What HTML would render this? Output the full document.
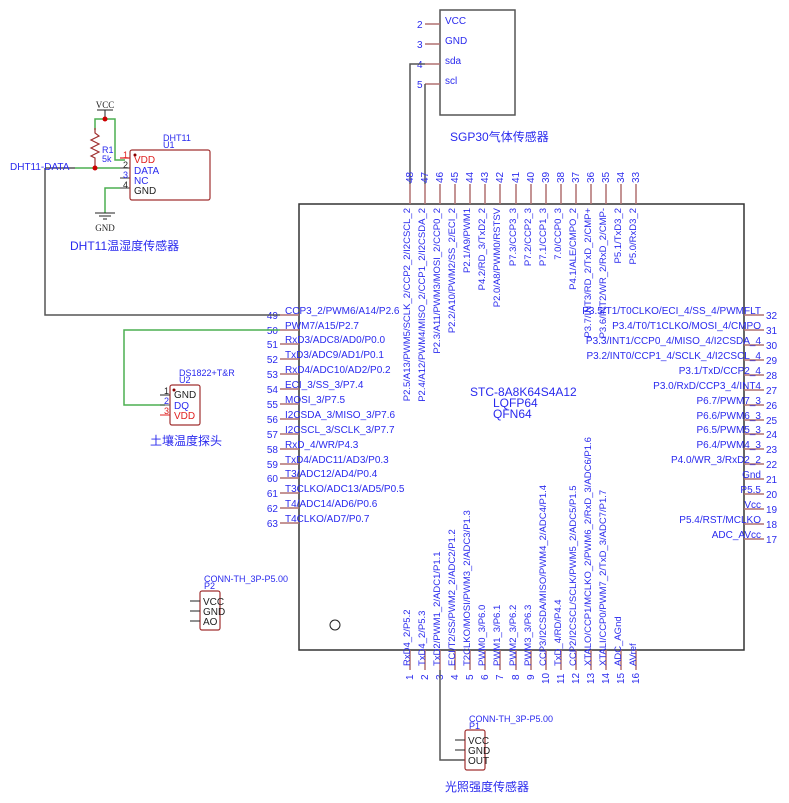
<!DOCTYPE html>
<html><head><meta charset="utf-8"><style>
html,body{margin:0;padding:0;background:#fff;}
svg{display:block;}
text{font-family:"Liberation Sans","Noto Sans CJK SC",sans-serif;}
.b{fill:#2a2aee;font-size:10px;}
.k{fill:#222;font-size:10px;}
.r{fill:#e02020;font-size:10px;}
.p{stroke:#b07070;stroke-width:1.5;}
.w{stroke:#555;stroke-width:1.5;fill:none;}
.g{stroke:#4caf50;stroke-width:1.5;fill:none;}
</style></head><body>
<svg width="789" height="803" viewBox="0 0 789 803" xmlns="http://www.w3.org/2000/svg">
<!-- SGP30 -->
<rect x="440" y="10" width="75" height="105" fill="none" stroke="#555" stroke-width="1.5"/>
<g class="p"><line x1="425" y1="24" x2="440" y2="24"/><line x1="425" y1="44" x2="440" y2="44"/><line x1="425" y1="64" x2="440" y2="64"/><line x1="425" y1="84" x2="440" y2="84"/></g>
<text class="b" x="417" y="28">2</text><text class="b" x="417" y="48">3</text><text class="b" x="417" y="68">4</text><text class="b" x="417" y="88">5</text>
<text class="b" x="445" y="24">VCC</text><text class="b" x="445" y="44">GND</text><text class="b" x="445" y="64">sda</text><text class="b" x="445" y="84">scl</text>
<text class="b" x="450" y="141" style="font-size:12px">SGP30气体传感器</text>
<polyline class="w" points="425,64 410,64 410,184"/>
<polyline class="w" points="425,84 425,184"/>

<!-- Chip -->
<rect x="299" y="204" width="445" height="446" fill="none" stroke="#333" stroke-width="1.5"/>
<circle cx="335" cy="625" r="5" fill="none" stroke="#222" stroke-width="1"/>
<text class="b" x="470" y="396" style="font-size:12px">STC-8A8K64S4A12</text>
<text class="b" x="493" y="407" style="font-size:12px">LQFP64</text>
<text class="b" x="493" y="418" style="font-size:12px">QFN64</text>

<!-- top pins -->
<g class="p">
<line x1="410" y1="184" x2="410" y2="204"/><line x1="425" y1="184" x2="425" y2="204"/><line x1="440" y1="184" x2="440" y2="204"/><line x1="455" y1="184" x2="455" y2="204"/><line x1="470" y1="184" x2="470" y2="204"/><line x1="485" y1="184" x2="485" y2="204"/><line x1="500" y1="184" x2="500" y2="204"/><line x1="516" y1="184" x2="516" y2="204"/><line x1="531" y1="184" x2="531" y2="204"/><line x1="546" y1="184" x2="546" y2="204"/><line x1="561" y1="184" x2="561" y2="204"/><line x1="576" y1="184" x2="576" y2="204"/><line x1="591" y1="184" x2="591" y2="204"/><line x1="606" y1="184" x2="606" y2="204"/><line x1="621" y1="184" x2="621" y2="204"/><line x1="636" y1="184" x2="636" y2="204"/>
</g>
<g class="b">
<text transform="translate(413,183) rotate(-90)">48</text><text transform="translate(428,183) rotate(-90)">47</text><text transform="translate(443,183) rotate(-90)">46</text><text transform="translate(458,183) rotate(-90)">45</text><text transform="translate(473,183) rotate(-90)">44</text><text transform="translate(488,183) rotate(-90)">43</text><text transform="translate(503,183) rotate(-90)">42</text><text transform="translate(519,183) rotate(-90)">41</text><text transform="translate(534,183) rotate(-90)">40</text><text transform="translate(549,183) rotate(-90)">39</text><text transform="translate(564,183) rotate(-90)">38</text><text transform="translate(579,183) rotate(-90)">37</text><text transform="translate(594,183) rotate(-90)">36</text><text transform="translate(609,183) rotate(-90)">35</text><text transform="translate(624,183) rotate(-90)">34</text><text transform="translate(639,183) rotate(-90)">33</text>
</g>
<g class="b" text-anchor="end" style="font-size:9.5px">
<text transform="translate(410,208) rotate(-90)">P2.5/A13/PWM5/SCLK_2/CCP2_2/I2CSCL_2</text>
<text transform="translate(425,208) rotate(-90)">P2.4/A12/PWM4/MISO_2/CCP1_2/I2CSDA_2</text>
<text transform="translate(440,208) rotate(-90)">P2.3/A11/PWM3/MOSI_2/CCP0_2</text>
<text transform="translate(455,208) rotate(-90)">P2.2/A10/PWM2/SS_2/ECI_2</text>
<text transform="translate(470,208) rotate(-90)">P2.1/A9/PWM1</text>
<text transform="translate(485,208) rotate(-90)">P4.2/RD_3/TxD2_2</text>
<text transform="translate(500,208) rotate(-90)">P2.0/A8/PWM0/RSTSV</text>
<text transform="translate(516,208) rotate(-90)">P7.3/CCP3_3</text>
<text transform="translate(531,208) rotate(-90)">P7.2/CCP2_3</text>
<text transform="translate(546,208) rotate(-90)">P7.1/CCP1_3</text>
<text transform="translate(561,208) rotate(-90)">7.0/CCP0_3</text>
<text transform="translate(576,208) rotate(-90)">P4.1/ALE/CMPO_2</text>
<text transform="translate(591,208) rotate(-90)">P3.7/INT3/RD_2/TxD_2/CMP+</text>
<text transform="translate(606,208) rotate(-90)">P3.6/INT2/WR_2/RxD_2/CMP-</text>
<text transform="translate(621,208) rotate(-90)">P5.1/TxD3_2</text>
<text transform="translate(636,208) rotate(-90)">P5.0/RxD3_2</text>
</g>

<!-- bottom pins -->
<g class="p">
<line x1="410" y1="650" x2="410" y2="670"/><line x1="425" y1="650" x2="425" y2="670"/><line x1="440" y1="650" x2="440" y2="670"/><line x1="455" y1="650" x2="455" y2="670"/><line x1="470" y1="650" x2="470" y2="670"/><line x1="485" y1="650" x2="485" y2="670"/><line x1="500" y1="650" x2="500" y2="670"/><line x1="516" y1="650" x2="516" y2="670"/><line x1="531" y1="650" x2="531" y2="670"/><line x1="546" y1="650" x2="546" y2="670"/><line x1="561" y1="650" x2="561" y2="670"/><line x1="576" y1="650" x2="576" y2="670"/><line x1="591" y1="650" x2="591" y2="670"/><line x1="606" y1="650" x2="606" y2="670"/><line x1="621" y1="650" x2="621" y2="670"/><line x1="636" y1="650" x2="636" y2="670"/>
</g>
<g class="b">
<text transform="translate(413,680) rotate(-90)">1</text><text transform="translate(428,680) rotate(-90)">2</text><text transform="translate(443,680) rotate(-90)">3</text><text transform="translate(458,680) rotate(-90)">4</text><text transform="translate(473,680) rotate(-90)">5</text><text transform="translate(488,680) rotate(-90)">6</text><text transform="translate(503,680) rotate(-90)">7</text><text transform="translate(519,680) rotate(-90)">8</text><text transform="translate(534,680) rotate(-90)">9</text><text transform="translate(549,684) rotate(-90)">10</text><text transform="translate(564,684) rotate(-90)">11</text><text transform="translate(579,684) rotate(-90)">12</text><text transform="translate(594,684) rotate(-90)">13</text><text transform="translate(609,684) rotate(-90)">14</text><text transform="translate(624,684) rotate(-90)">15</text><text transform="translate(639,684) rotate(-90)">16</text>
</g>
<g class="b" style="font-size:9.5px">
<text transform="translate(410,666) rotate(-90)">RxD4_2/P5.2</text>
<text transform="translate(425,666) rotate(-90)">TxD4_2/P5.3</text>
<text transform="translate(440,666) rotate(-90)">TxD2/PWM1_2/ADC1/P1.1</text>
<text transform="translate(455,666) rotate(-90)">ECI/T2/SS/PWM2_2/ADC2/P1.2</text>
<text transform="translate(470,666) rotate(-90)">T2CLKO/MOSI/PWM3_2/ADC3/P1.3</text>
<text transform="translate(485,666) rotate(-90)">PWM0_3/P6.0</text>
<text transform="translate(500,666) rotate(-90)">PWM1_3/P6.1</text>
<text transform="translate(516,666) rotate(-90)">PWM2_3/P6.2</text>
<text transform="translate(531,666) rotate(-90)">PWM3_3/P6.3</text>
<text transform="translate(546,666) rotate(-90)">CCP3/I2CSDA/MISO/PWM4_2/ADC4/P1.4</text>
<text transform="translate(561,666) rotate(-90)">TxD_4/RD/P4.4</text>
<text transform="translate(576,666) rotate(-90)">CCP2/I2CSCL/SCLK/PWM5_2/ADC5/P1.5</text>
<text transform="translate(591,666) rotate(-90)">XTALO/CCP1/MCLKO_2/PWM6_2/RxD_3/ADC6/P1.6</text>
<text transform="translate(606,666) rotate(-90)">XTALI/CCP0/PWM7_2/TxD_3/ADC7/P1.7</text>
<text transform="translate(621,666) rotate(-90)">ADC_AGnd</text>
<text transform="translate(636,666) rotate(-90)">AVref</text>
</g>

<!-- left pins -->
<g class="p">
<line x1="280" y1="315" x2="299" y2="315"/><line x1="280" y1="330" x2="299" y2="330"/><line x1="280" y1="344" x2="299" y2="344"/><line x1="280" y1="359" x2="299" y2="359"/><line x1="280" y1="374" x2="299" y2="374"/><line x1="280" y1="389" x2="299" y2="389"/><line x1="280" y1="404" x2="299" y2="404"/><line x1="280" y1="419" x2="299" y2="419"/><line x1="280" y1="434" x2="299" y2="434"/><line x1="280" y1="449" x2="299" y2="449"/><line x1="280" y1="464" x2="299" y2="464"/><line x1="280" y1="478" x2="299" y2="478"/><line x1="280" y1="493" x2="299" y2="493"/><line x1="280" y1="508" x2="299" y2="508"/><line x1="280" y1="523" x2="299" y2="523"/>
</g>
<g class="b" text-anchor="end">
<text x="278" y="319">49</text><text x="278" y="334">50</text><text x="278" y="348">51</text><text x="278" y="363">52</text><text x="278" y="378">53</text><text x="278" y="393">54</text><text x="278" y="408">55</text><text x="278" y="423">56</text><text x="278" y="438">57</text><text x="278" y="453">58</text><text x="278" y="468">59</text><text x="278" y="482">60</text><text x="278" y="497">61</text><text x="278" y="512">62</text><text x="278" y="527">63</text>
</g>
<g class="b">
<text x="285" y="314">CCP3_2/PWM6/A14/P2.6</text><text x="285" y="329">PWM7/A15/P2.7</text><text x="285" y="343">RxD3/ADC8/AD0/P0.0</text><text x="285" y="358">TxD3/ADC9/AD1/P0.1</text><text x="285" y="373">RxD4/ADC10/AD2/P0.2</text><text x="285" y="388">ECI_3/SS_3/P7.4</text><text x="285" y="403">MOSI_3/P7.5</text><text x="285" y="418">I2CSDA_3/MISO_3/P7.6</text><text x="285" y="433">I2CSCL_3/SCLK_3/P7.7</text><text x="285" y="448">RxD_4/WR/P4.3</text><text x="285" y="463">TxD4/ADC11/AD3/P0.3</text><text x="285" y="477">T3/ADC12/AD4/P0.4</text><text x="285" y="492">T3CLKO/ADC13/AD5/P0.5</text><text x="285" y="507">T4/ADC14/AD6/P0.6</text><text x="285" y="522">T4CLKO/AD7/P0.7</text>
</g>

<!-- right pins -->
<g class="p">
<line x1="744" y1="315" x2="764" y2="315"/><line x1="744" y1="330" x2="764" y2="330"/><line x1="744" y1="345" x2="764" y2="345"/><line x1="744" y1="360" x2="764" y2="360"/><line x1="744" y1="375" x2="764" y2="375"/><line x1="744" y1="390" x2="764" y2="390"/><line x1="744" y1="405" x2="764" y2="405"/><line x1="744" y1="420" x2="764" y2="420"/><line x1="744" y1="434" x2="764" y2="434"/><line x1="744" y1="449" x2="764" y2="449"/><line x1="744" y1="464" x2="764" y2="464"/><line x1="744" y1="479" x2="764" y2="479"/><line x1="744" y1="494" x2="764" y2="494"/><line x1="744" y1="509" x2="764" y2="509"/><line x1="744" y1="524" x2="764" y2="524"/><line x1="744" y1="539" x2="764" y2="539"/>
</g>
<g class="b">
<text x="766" y="319">32</text><text x="766" y="334">31</text><text x="766" y="349">30</text><text x="766" y="364">29</text><text x="766" y="379">28</text><text x="766" y="394">27</text><text x="766" y="409">26</text><text x="766" y="424">25</text><text x="766" y="438">24</text><text x="766" y="453">23</text><text x="766" y="468">22</text><text x="766" y="483">21</text><text x="766" y="498">20</text><text x="766" y="513">19</text><text x="766" y="528">18</text><text x="766" y="543">17</text>
</g>
<g class="b" text-anchor="end">
<text x="761" y="314">P3.5/T1/T0CLKO/ECI_4/SS_4/PWMFLT</text><text x="761" y="329">P3.4/T0/T1CLKO/MOSI_4/CMPO</text><text x="761" y="344">P3.3/INT1/CCP0_4/MISO_4/I2CSDA_4</text><text x="761" y="359">P3.2/INT0/CCP1_4/SCLK_4/I2CSCL_4</text><text x="761" y="374">P3.1/TxD/CCP2_4</text><text x="761" y="389">P3.0/RxD/CCP3_4/INT4</text><text x="761" y="404">P6.7/PWM7_3</text><text x="761" y="419">P6.6/PWM6_3</text><text x="761" y="433">P6.5/PWM5_3</text><text x="761" y="448">P6.4/PWM4_3</text><text x="761" y="463">P4.0/WR_3/RxD2_2</text><text x="761" y="478">Gnd</text><text x="761" y="493">P5.5</text><text x="761" y="508">Vcc</text><text x="761" y="523">P5.4/RST/MCLKO</text><text x="761" y="538">ADC_AVcc</text>
</g>

<!-- DHT11 -->
<text x="105" y="108" text-anchor="middle" style="font-family:'Liberation Serif',serif;font-size:9px;fill:#222">VCC</text>
<line x1="97" y1="110" x2="113" y2="110" stroke="#222" stroke-width="1"/>
<line x1="105" y1="110" x2="105" y2="119" stroke="#222" stroke-width="1"/>
<polyline class="g" points="95,130 95,119 115,119 115,160 125,160"/>
<circle cx="105" cy="119" r="2.5" fill="#c00"/>
<polyline points="95,128 95,133 99,136 91,140 99,144 91,148 99,152 91,156 95,158 95,168" fill="none" stroke="#a03030" stroke-width="1.2"/>
<text x="102" y="153" class="b" style="font-size:9px">R1</text><text x="102" y="162" class="b" style="font-size:9px">5k</text>
<polyline class="w" points="45,168 45,315 280,315"/>
<line class="g" x1="75" y1="168" x2="120" y2="168"/>
<line x1="45" y1="168" x2="75" y2="168" stroke="#555" stroke-width="1.5"/>
<circle cx="95" cy="168" r="2.5" fill="#c00"/>
<text x="10" y="170" class="b">DHT11-DATA</text>
<g stroke-width="1.2"><line x1="120" y1="158" x2="130" y2="158" stroke="#e02020"/><line x1="120" y1="168" x2="130" y2="168" stroke="#555"/><line x1="120" y1="178" x2="130" y2="178" stroke="#555"/><line x1="120" y1="188" x2="130" y2="188" stroke="#555"/></g>
<polyline class="g" points="120,188 105,188 105,213"/>
<line x1="95" y1="213" x2="115" y2="213" stroke="#222"/><line x1="99" y1="216" x2="111" y2="216" stroke="#222"/><line x1="103" y1="219" x2="107" y2="219" stroke="#222"/>
<text x="105" y="231" text-anchor="middle" style="font-family:'Liberation Serif',serif;font-size:9px;fill:#222">GND</text>
<rect x="130" y="150" width="80" height="50" rx="2" fill="none" stroke="#a03030" stroke-width="1.2"/>
<circle cx="135" cy="155" r="1.5" fill="#800"/>
<text x="163" y="141" class="b" style="font-size:9px">DHT11</text><text x="163" y="148" class="b" style="font-size:9px">U1</text>
<text x="123" y="158" class="r" style="font-size:9px">1</text><text x="123" y="168" class="k" style="font-size:9px">2</text><text x="123" y="178" class="b" style="font-size:9px">3</text><text x="123" y="188" class="k" style="font-size:9px">4</text>
<text x="134" y="163" class="r">VDD</text><text x="134" y="174" class="b">DATA</text><text x="134" y="184" class="b">NC</text><text x="134" y="194" class="k">GND</text>
<text x="70" y="250" class="b" style="font-size:12px">DHT11温湿度传感器</text>

<!-- DS1822 -->
<polyline class="g" points="280,330 124,330 124,405 165,405"/>
<rect x="170" y="385" width="30" height="40" rx="2" fill="none" stroke="#a03030" stroke-width="1.2"/>
<circle cx="174" cy="390" r="1.5" fill="#800"/>
<line x1="160" y1="395" x2="170" y2="395" stroke="#222"/><line x1="160" y1="405" x2="170" y2="405" stroke="#555"/><line x1="160" y1="415" x2="170" y2="415" stroke="#e02020"/>
<text x="164" y="394" class="k" style="font-size:9px">1</text><text x="164" y="404" class="b" style="font-size:9px">2</text><text x="164" y="414" class="r" style="font-size:9px">3</text>
<text x="174" y="398" class="k">GND</text><text x="174" y="409" class="b">DQ</text><text x="174" y="419" class="r">VDD</text>
<text x="179" y="376" class="b" style="font-size:9px">DS1822+T&amp;R</text><text x="179" y="383" class="b" style="font-size:9px">U2</text>
<text x="150" y="445" class="b" style="font-size:12px">土壤温度探头</text>

<!-- P2 -->
<rect x="200" y="591" width="20" height="39" rx="2" fill="none" stroke="#a03030" stroke-width="1.2"/>
<line x1="190" y1="601" x2="200" y2="601" stroke="#222"/><line x1="190" y1="611" x2="200" y2="611" stroke="#222"/><line x1="190" y1="621" x2="200" y2="621" stroke="#222"/>
<text x="203" y="605" class="k">VCC</text><text x="203" y="615" class="k">GND</text><text x="203" y="625" class="k">AO</text>
<text x="204" y="582" class="b" style="font-size:9px">CONN-TH_3P-P5.00</text><text x="204" y="589" class="b" style="font-size:9px">P2</text>

<!-- P1 -->
<polyline class="w" points="440,670 440,760 465,760"/>
<rect x="465" y="730" width="20" height="40" rx="2" fill="none" stroke="#a03030" stroke-width="1.2"/>
<line x1="455" y1="740" x2="465" y2="740" stroke="#222"/><line x1="455" y1="750" x2="465" y2="750" stroke="#222"/>
<text x="468" y="744" class="k">VCC</text><text x="468" y="754" class="k">GND</text><text x="468" y="764" class="k">OUT</text>
<text x="469" y="722" class="b" style="font-size:9px">CONN-TH_3P-P5.00</text><text x="469" y="729" class="b" style="font-size:9px">P1</text>
<text x="445" y="791" class="b" style="font-size:12px">光照强度传感器</text>
</svg>
</body></html>
